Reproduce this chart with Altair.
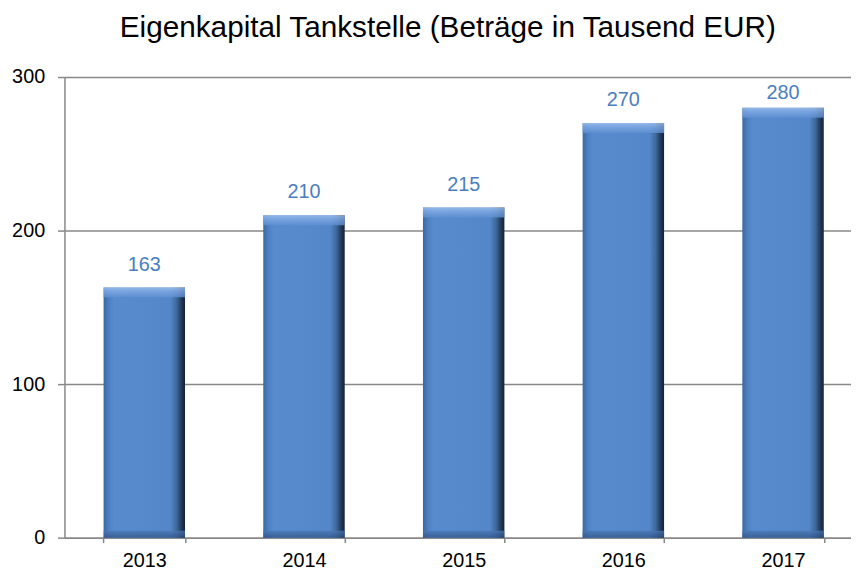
import altair as alt
import pandas as pd

years = ["2013", "2014", "2015", "2016", "2017"]
values = [163, 210, 215, 270, 280]
title_text = "Eigenkapital Tankstelle (Beträge in Tausend EUR)"

df = pd.DataFrame({"year": years, "value": values})

xscale = alt.Scale(range=[0, 806], paddingInner=0.49, paddingOuter=0.245)
yscale = alt.Scale(domain=[0, 300])

x_enc = alt.X("year:N", scale=xscale, sort=years,
              axis=alt.Axis(title=None, tickBand="extent", labelAngle=0,
                            labelFontSize=20, labelColor="#000000",
                            labelFont="Liberation Sans", labelPadding=8,
                            tickSize=5, tickColor="#888888", tickWidth=1.5,
                            domainColor="#888888", domainWidth=1.5, grid=False))
y_enc = alt.Y("value:Q", scale=yscale,
              axis=alt.Axis(title=None, values=[0, 100, 200, 300],
                            labelFontSize=20, labelColor="#000000",
                            labelFont="Liberation Sans", labelPadding=13,
                            tickSize=7, tickColor="#888888", tickWidth=1.5,
                            domainColor="#888888", domainWidth=1.5,
                            gridColor="#888888", gridWidth=1.5))

base = alt.Chart(df)

body = base.mark_bar(
    fill=alt.Gradient(
        gradient="linear", x1=0, x2=1, y1=0, y2=0,
        stops=[
            alt.GradientStop(offset=0, color="#3A68A4"),
            alt.GradientStop(offset=0.07, color="#4F82C4"),
            alt.GradientStop(offset=0.13, color="#588BCD"),
            alt.GradientStop(offset=0.82, color="#5487C9"),
            alt.GradientStop(offset=0.9, color="#3E6699"),
            alt.GradientStop(offset=0.96, color="#203755"),
            alt.GradientStop(offset=1, color="#13213A"),
        ],
    )
).encode(x=x_enc, y=y_enc)

top_bevel = base.transform_calculate(
    lo="datum.value - 6.5"
).mark_bar(
    fill=alt.Gradient(
        gradient="linear", x1=0, x2=0, y1=0, y2=1,
        stops=[
            alt.GradientStop(offset=0, color="#A3C4F0"),
            alt.GradientStop(offset=0.35, color="#84ACE6"),
            alt.GradientStop(offset=1, color="#5E90D2"),
        ],
    ),
    opacity=0.8,
).encode(x=alt.X("year:N", sort=years), y="value:Q", y2="lo:Q")

bottom_bevel = base.transform_calculate(
    lo="0", hi="4.5"
).mark_bar(
    fill=alt.Gradient(
        gradient="linear", x1=0, x2=0, y1=0, y2=1,
        stops=[
            alt.GradientStop(offset=0, color="#4A78B6"),
            alt.GradientStop(offset=1, color="#2F5283"),
        ],
    ),
    opacity=0.75,
).encode(x=alt.X("year:N", sort=years), y="hi:Q", y2="lo:Q")

labels = base.transform_calculate(
    ly="min(datum.value, 275)"
).mark_text(
    baseline="alphabetic", dy=-17, fontSize=20, font="Liberation Sans",
    color="#4A7EC0"
).encode(x=alt.X("year:N", sort=years), y="ly:Q", text="value:Q")

chart = alt.layer(body, top_bevel, bottom_bevel, labels).properties(
    width=794, height=465,
    title=alt.TitleParams(title_text, fontSize=30, font="Liberation Sans",
                          fontWeight="normal", color="#000000", dx=-10,
                          anchor="middle", offset=24),
    autosize=alt.AutoSizeParams(type="none"),
    padding={"left": 57, "top": 67, "right": 0, "bottom": 33},
).configure_view(stroke=None)

chart.save("out.html", embed_options={"renderer": "svg", "actions": False})
